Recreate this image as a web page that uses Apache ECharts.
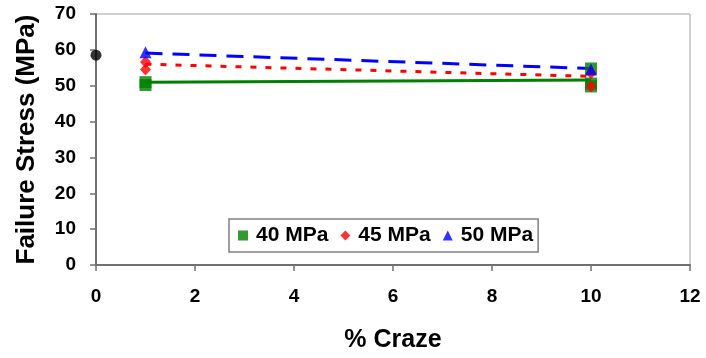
<!DOCTYPE html>
<html>
<head>
<meta charset="utf-8">
<script src="https://cdn.jsdelivr.net/npm/echarts@6/dist/echarts.min.js"></script>
<style>
  html, body { margin: 0; padding: 0; background: #fff; }
  #chart { width: 706px; height: 358px; }
</style>
</head>
<body>
<div id="chart"></div>
<script>
// Axis ticks
const xTicks = [0, 2, 4, 6, 8, 10, 12];
const yTicks = [0, 10, 20, 30, 40, 50, 60, 70];

// Uncrazed reference specimen
const baseline = [[0, 58.5]];

// Measured failure stress per craze level, by crazing stress
const pts40 = [[1, 51.0], [1, 50.2], [10, 54.8], [10, 50.6], [10, 49.8]];
const pts45 = [[1, 56.6], [1, 54.5], [10, 53.5], [10, 49.8]];
const pts50 = [[1, 59.3], [10, 54.5]];

// Trend lines
const fit40 = [[1, 51.0], [10, 51.6]];
const fit45 = [[1, 56.0], [10, 52.6]];
const fit50 = [[1, 59.1], [10, 54.8]];

const seriesNames = ['40 MPa', '45 MPa', '50 MPa'];

const FONT = "'Liberation Sans', Arial, sans-serif";
const GREEN = '#008000', RED = '#ff0000', BLUE = '#0000ff';

const chart = echarts.init(document.getElementById('chart'));
chart.setOption({
  animation: false,
  backgroundColor: '#fff',
  grid: {
    left: 96, right: 16, top: 14, bottom: 91,
    show: true, borderColor: '#a0a0a0', borderWidth: 1
  },
  xAxis: {
    type: 'value',
    min: xTicks[0], max: xTicks[xTicks.length - 1], interval: 2,
    name: '% Craze', nameLocation: 'middle', nameGap: 63,
    nameTextStyle: { fontFamily: FONT, fontWeight: 'bold', fontSize: 25, color: '#000' },
    axisLine: { show: true, lineStyle: { color: '#707070', width: 2 } },
    axisTick: { show: true, length: 6, lineStyle: { color: '#707070', width: 1.5 } },
    axisLabel: { margin: 22, fontFamily: FONT, fontWeight: 'bold', fontSize: 19, color: '#000' },
    splitLine: { show: false }
  },
  yAxis: {
    type: 'value',
    min: yTicks[0], max: yTicks[yTicks.length - 1], interval: 10,
    name: 'Failure Stress (MPa)', nameLocation: 'middle', nameGap: 56,
    nameTextStyle: { fontFamily: FONT, fontWeight: 'bold', fontSize: 26, color: '#000' },
    axisLine: { show: true, lineStyle: { color: '#707070', width: 2 } },
    axisTick: { show: true, length: 6, lineStyle: { color: '#707070', width: 1.5 } },
    axisLabel: { margin: 20, fontFamily: FONT, fontWeight: 'bold', fontSize: 19, color: '#000' },
    splitLine: { show: false }
  },
  legend: {
    left: 229, top: 219,
    padding: [6, 5, 6, 9],
    itemWidth: 10, itemHeight: 10, itemGap: 12,
    borderColor: '#808080', borderWidth: 1.5,
    backgroundColor: '#fff',
    textStyle: { fontFamily: FONT, fontWeight: 'bold', fontSize: 21, color: '#000', padding: [0, 0, 0, 3] },
    data: [
      { name: seriesNames[0], icon: 'rect' },
      { name: seriesNames[1], icon: 'diamond' },
      { name: seriesNames[2], icon: 'triangle' }
    ]
  },
  series: [
    { type: 'line', name: 'fit40', data: fit40, symbol: 'none', z: 2,
      lineStyle: { color: GREEN, width: 3, type: 'solid' } },
    { type: 'line', name: 'fit45', data: fit45, symbol: 'none', z: 2,
      lineStyle: { color: RED, width: 3, type: [6, 9] } },
    { type: 'line', name: 'fit50', data: fit50, symbol: 'none', z: 2,
      lineStyle: { color: BLUE, width: 3, type: [17, 10] } },
    { type: 'scatter', name: seriesNames[0], data: pts40, symbol: 'rect', symbolSize: 12, z: 3,
      itemStyle: { color: GREEN } },
    { type: 'scatter', name: seriesNames[1], data: pts45, symbol: 'diamond', symbolSize: [11, 12], z: 4,
      itemStyle: { color: RED } },
    { type: 'scatter', name: seriesNames[2], data: pts50, symbol: 'triangle', symbolSize: 12, z: 5,
      itemStyle: { color: BLUE } },
    { type: 'scatter', name: 'baseline', data: baseline, symbol: 'circle', symbolSize: 11, z: 5,
      itemStyle: { color: '#000' } }
  ]
});
</script>
</body>
</html>
